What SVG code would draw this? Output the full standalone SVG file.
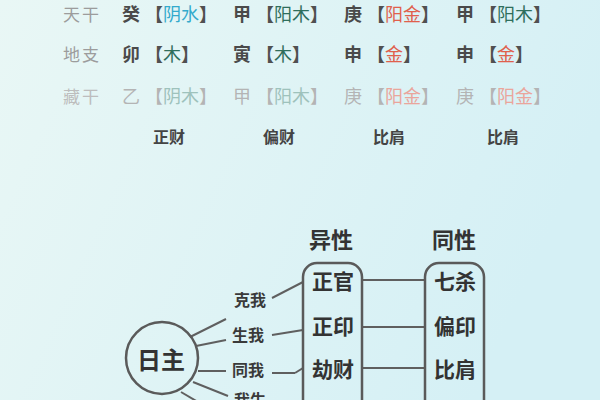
<svg xmlns="http://www.w3.org/2000/svg" width="600" height="400" viewBox="0 0 600 400">
<defs>
<linearGradient id="bg" x1="0" y1="0" x2="1" y2="0.3">
<stop offset="0" stop-color="#e9f7f5"/>
<stop offset="1" stop-color="#d5f0f5"/>
</linearGradient>
<style>
.t{font-family:"Noto Sans CJK SC","Noto Sans",sans-serif;}
.lab{font-size:17px;fill:#9c9c9c;letter-spacing:2px;}
.ch{font-size:18px;font-weight:bold;fill:#4a4a4a;}
.br{font-size:18px;font-weight:bold;fill:#505050;}
.lt{fill:#b4b4b4;font-weight:normal;}
.shui{fill:#33aacc;font-weight:normal;}
.mu{fill:#2f6e5c;font-weight:normal;}
.jin{fill:#e0604c;font-weight:normal;}
.mul{fill:#9ec2bc;}
.jinl{fill:#eaa59c;}
.ss{font-size:16px;font-weight:bold;fill:#444;}
.hd{font-size:22px;font-weight:bold;fill:#333;text-anchor:middle;}
.it{font-size:21px;font-weight:bold;fill:#333;text-anchor:middle;}
.rl{font-size:16px;font-weight:bold;fill:#3a3a3a;text-anchor:middle;}
.box{fill:none;stroke:#5a5a5a;stroke-width:2.5;}
.ln{stroke:#5f5f5f;stroke-width:2;fill:none;}
</style>
</defs>
<rect width="600" height="400" fill="url(#bg)"/>

<g id="table">
<text class="t lab" x="63" y="21">天干</text>
<text class="t lab" x="63" y="61">地支</text>
<text class="t lab" x="63" y="103" style="fill:#bdbdbd">藏干</text>

<text class="t ch" x="122" y="21">癸</text>
<text class="t br" x="145" y="21">【<tspan class="shui">阴水</tspan>】</text>
<text class="t ch" x="233" y="21">甲</text>
<text class="t br" x="256" y="21">【<tspan class="mu">阳木</tspan>】</text>
<text class="t ch" x="344" y="21">庚</text>
<text class="t br" x="367" y="21">【<tspan class="jin">阳金</tspan>】</text>
<text class="t ch" x="456" y="21">甲</text>
<text class="t br" x="479" y="21">【<tspan class="mu">阳木</tspan>】</text>

<text class="t ch" x="122" y="61">卯</text>
<text class="t br" x="145" y="61">【<tspan class="mu">木</tspan>】</text>
<text class="t ch" x="233" y="61">寅</text>
<text class="t br" x="256" y="61">【<tspan class="mu">木</tspan>】</text>
<text class="t ch" x="344" y="61">申</text>
<text class="t br" x="367" y="61">【<tspan class="jin">金</tspan>】</text>
<text class="t ch" x="456" y="61">申</text>
<text class="t br" x="479" y="61">【<tspan class="jin">金</tspan>】</text>

<text class="t ch lt" x="122" y="103">乙</text>
<text class="t br lt" x="145" y="103">【<tspan class="mul">阴木</tspan>】</text>
<text class="t ch lt" x="233" y="103">甲</text>
<text class="t br lt" x="256" y="103">【<tspan class="mul">阳木</tspan>】</text>
<text class="t ch lt" x="344" y="103">庚</text>
<text class="t br lt" x="367" y="103">【<tspan class="jinl">阳金</tspan>】</text>
<text class="t ch lt" x="456" y="103">庚</text>
<text class="t br lt" x="479" y="103">【<tspan class="jinl">阳金</tspan>】</text>

<text class="t ss" x="153" y="143">正财</text>
<text class="t ss" x="263" y="143">偏财</text>
<text class="t ss" x="373" y="143">比肩</text>
<text class="t ss" x="487" y="143">比肩</text>
</g>

<g id="connectors">
<line class="ln" x1="190" y1="337" x2="226" y2="319"/>
<line class="ln" x1="196" y1="346" x2="226" y2="340"/>
<line class="ln" x1="198" y1="371" x2="226" y2="371"/>
<line class="ln" x1="193" y1="382" x2="228" y2="396"/>
<line class="ln" x1="181" y1="392" x2="198" y2="402"/>
<line class="ln" x1="272" y1="298" x2="303" y2="282"/>
<line class="ln" x1="272" y1="335" x2="303" y2="330"/>
<line class="ln" x1="272" y1="373" x2="295" y2="373"/>
<line class="ln" x1="295" y1="373" x2="303" y2="368"/>
<line class="ln" x1="362" y1="280" x2="425" y2="280"/>
<line class="ln" x1="362" y1="327" x2="425" y2="327"/>
<line class="ln" x1="362" y1="368" x2="425" y2="368"/>
</g>

<g id="rizhu">
<circle cx="162" cy="358" r="36" fill="none" stroke="#5a5a5a" stroke-width="2.5"/>
<text class="t hd" x="161" y="369" style="font-size:24px">日主</text>
</g>

<g id="labels">
<text class="t rl" x="250" y="306">克我</text>
<text class="t rl" x="248" y="341">生我</text>
<text class="t rl" x="248" y="376">同我</text>
<text class="t rl" x="250" y="406">我生</text>
</g>

<g id="yixing">
<text class="t hd" x="331" y="248">异性</text>
<rect class="box" x="303" y="263" width="59" height="170" rx="14"/>
<text class="t it" x="333" y="289">正官</text>
<text class="t it" x="333" y="334">正印</text>
<text class="t it" x="333" y="377">劫财</text>
</g>

<g id="tongxing">
<text class="t hd" x="454" y="248">同性</text>
<rect class="box" x="425" y="263" width="59" height="170" rx="14"/>
<text class="t it" x="455" y="289">七杀</text>
<text class="t it" x="455" y="334">偏印</text>
<text class="t it" x="455" y="377">比肩</text>
</g>
</svg>
